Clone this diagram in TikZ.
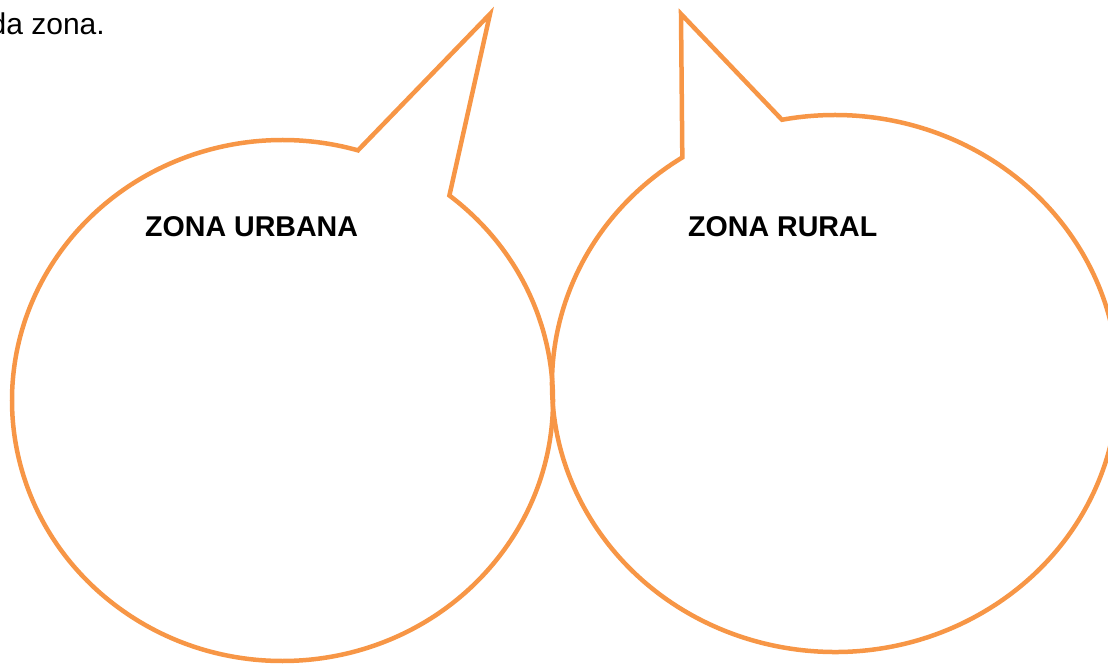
\documentclass[tikz,border=0pt]{standalone}
\usepackage{fontspec}
\setmainfont{Liberation Sans}
\usetikzlibrary{calc}
\definecolor{bubble}{HTML}{F79646}
\begin{document}
\begin{tikzpicture}[x=1pt,y=1pt,
  bubbleline/.style={draw=bubble,line width=4.5pt,line join=miter,miter limit=20},
  label/.style={font=\bfseries\fontsize{28.6}{32}\selectfont,inner sep=0pt,anchor=base west},
  plain/.style={font=\fontsize{30}{34}\selectfont,inner sep=0pt,anchor=base east}]
\useasboundingbox (0,0) rectangle (1108,664);
% left bubble
\coordinate (cL) at (282.5,263.5);
\coordinate (tipL) at (490,650);
\coordinate (bL) at ($(cL)+(51.9:270.5 and 260.5)$);
\draw[bubbleline] (bL) arc[start angle=51.9,end angle=-286.2,x radius=270.5,y radius=260.5] -- (tipL) -- cycle;
% right bubble
\coordinate (cR) at (835,280.5);
\coordinate (tipR) at (681,650);
\coordinate (bR) at ($(cR)+(122.65:283 and 268.5)$);
\draw[bubbleline] (bR) arc[start angle=122.65,end angle=460.8,x radius=283,y radius=268.5] -- (tipR) -- cycle;
% texts
\node[plain] (intro) at (105,629) {da zona.};
\node[label] (urb) at (145,427) {ZONA URBANA};
\node[label] (rur) at (688,427) {ZONA RURAL};
\end{tikzpicture}
\end{document}
